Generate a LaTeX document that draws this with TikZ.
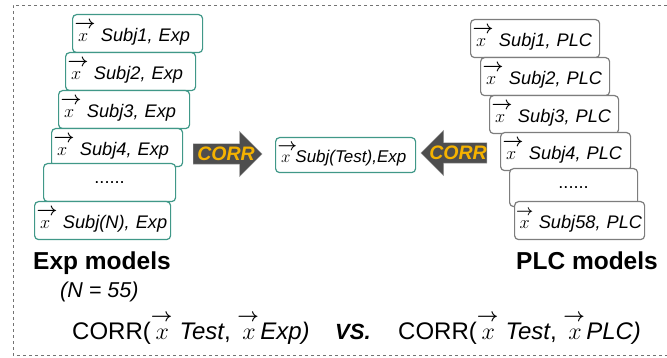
\RequirePackage{fix-cm}
\documentclass[tikz,border=0pt]{standalone}
\usepackage{amsmath}
\usepackage{fontspec}
\setmainfont{Liberation Sans}
\usetikzlibrary{shapes.arrows}
\definecolor{expteal}{RGB}{64,152,136}
\definecolor{plcgray}{RGB}{125,125,125}
\definecolor{arrowgray}{RGB}{78,78,78}
\definecolor{corrgold}{RGB}{245,178,0}
\newcommand{\vecx}[1][1.15em]{\makebox[\dimexpr#1+0.3em\relax][l]{\rlap{\raisebox{0.72em}{\resizebox{#1}{!}{$\boldsymbol{\rightarrow}$}}}\hspace{0.2em}$x$}}

\begin{document}
\begin{tikzpicture}[x=1pt,y=-1pt,
    expbox/.style={draw=expteal, line width=1.2pt, rounded corners=4pt, fill=white,
      anchor=north west, minimum height=38pt, text width=126pt, inner xsep=2pt, inner ysep=2pt,
      align=left, font=\fontsize{18.2}{20}\selectfont\itshape},
    plcbox/.style={expbox, draw=plcgray},
    corrarrow/.style={single arrow, fill=arrowgray, draw=black!40, minimum height=69pt,
      single arrow head extend=12.5pt, single arrow head indent=0pt,
      inner xsep=0pt, inner ysep=10pt},
    corrtext/.style={font=\fontsize{19.5}{20}\selectfont\bfseries\itshape, text=corrgold, inner sep=0pt}]
    \useasboundingbox (0,0) rectangle (667,358);
    %Frame
    \draw [dashed, draw=black!55, line width=0.6pt] (667,5) -- (13,5) -- (13,355) -- (667,355);

    %Exp models
    \node [expbox] (exp1) at (72,14) {\vecx Subj1, Exp};
    \node [expbox] (exp2) at (65,52) {\vecx Subj2, Exp};
    \node [expbox, text width=127pt] (exp3) at (58,90) {\vecx Subj3, Exp};
    \node [expbox, text width=127pt] (exp4) at (51,128) {\vecx Subj4, Exp};
    \node [expbox, text width=128pt, align=center, font=\fontsize{18.2}{20}\selectfont] (expdots) at (43,163) {......};
    \node [expbox, text width=132pt] (expN) at (34,201) {\vecx\mbox{Subj(N), Exp}};

    %PLC models
    \node [plcbox, text width=125pt] (plc1) at (470,19) {\vecx Subj1, PLC};
    \node [plcbox, text width=125pt] (plc2) at (480,57) {\vecx Subj2, PLC};
    \node [plcbox, text width=125pt] (plc3) at (489,95) {\vecx Subj3, PLC};
    \node [plcbox] (plc4) at (500,132) {\vecx\mbox{Subj4, PLC}};
    \node [plcbox, text width=124pt, align=center, font=\fontsize{18.2}{20}\selectfont] (plcdots) at (509,168) {......};
    \node [plcbox, inner xsep=1.5pt, text width=127pt] (plc58) at (514,201) {\vecx[0.95em]\mbox{Subj58, PLC}};

    %Test
    \node [expbox, text width=136pt, minimum height=35pt, font=\fontsize{17}{18}\selectfont\itshape] (test) at (275,137) {\vecx\hspace{-0.4em}\mbox{Subj(Test),Exp}};

    %CORR arrows
    \node [corrarrow, anchor=tail] (corrL) at (193,154) {};
    \node [corrtext] (corrLtext) at (226,154) {CORR};
    \node [corrarrow, minimum height=66pt, shape border rotate=180, anchor=tail] (corrR) at (487,153) {};
    \node [corrtext] (corrRtext) at (458,153) {CORR};

    %Labels
    \node [anchor=base west, inner sep=0pt, font=\fontsize{24.5}{26}\selectfont\bfseries] (explabel) at (33,270) {Exp models};
    \node [anchor=base east, inner sep=0pt, font=\fontsize{24.5}{26}\selectfont\bfseries] (plclabel) at (658,270) {PLC models};
    \node [anchor=base west, inner sep=0pt, font=\fontsize{21.5}{22}\selectfont\itshape] (nlabel) at (60,298) {(N = 55)};
    \node [anchor=base west, inner sep=0pt, font=\fontsize{24}{26}\selectfont] (correxp) at (72,339) {CORR(\vecx[0.9em]\textit{Test}, \vecx[0.9em]\hspace{-0.25em}\textit{Exp)}};
    \node [anchor=base west, inner sep=0pt, font=\fontsize{22}{24}\selectfont\bfseries\itshape] (vs) at (335,339) {VS.};
    \node [anchor=base west, inner sep=0pt, font=\fontsize{24}{26}\selectfont] (corrplc) at (398,339) {CORR(\vecx[0.9em]\textit{Test}, \vecx[0.9em]\hspace{-0.25em}\textit{PLC)}};
\end{tikzpicture}
\end{document}
